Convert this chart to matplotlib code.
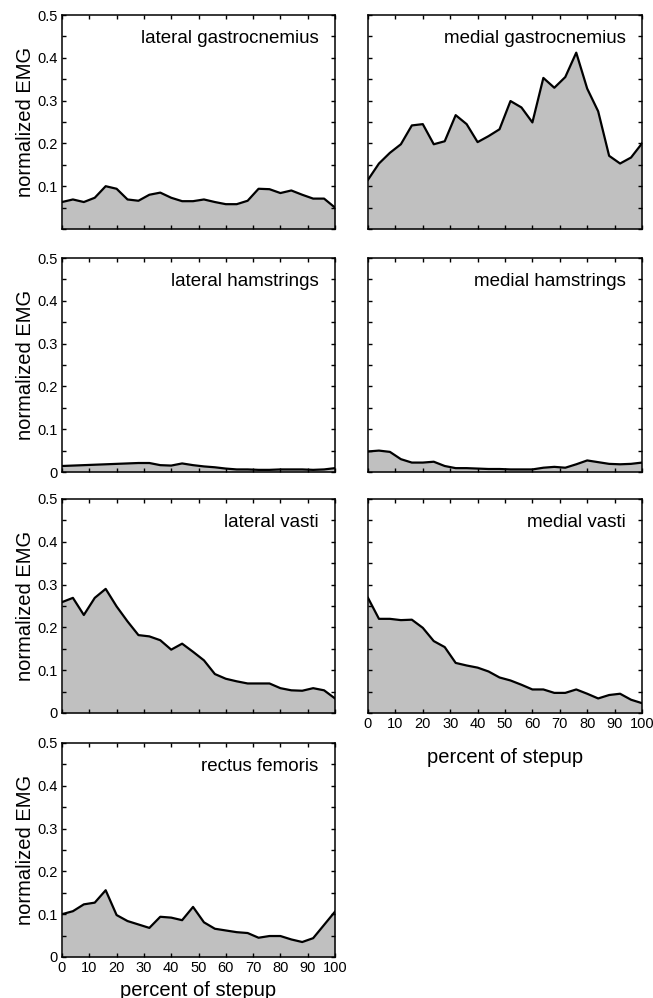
import numpy as np
import matplotlib
matplotlib.use('Agg')
import matplotlib.pyplot as plt

plt.rcParams['font.family'] = ['Liberation Sans', 'DejaVu Sans']

# percent of stepup, sampled every 4 %
pct = np.arange(0, 101, 4)

lat_gastroc = [0.063, 0.069, 0.063, 0.073, 0.100, 0.094, 0.069, 0.066, 0.080, 0.085,
               0.073, 0.065, 0.065, 0.069, 0.063, 0.058, 0.058, 0.066, 0.094, 0.093,
               0.084, 0.090, 0.080, 0.071, 0.071, 0.050]
med_gastroc = [0.115, 0.153, 0.178, 0.198, 0.242, 0.245, 0.198, 0.205, 0.266, 0.245,
               0.203, 0.217, 0.233, 0.299, 0.284, 0.249, 0.353, 0.330, 0.355, 0.412,
               0.328, 0.275, 0.171, 0.153, 0.167, 0.200]
lat_hams = [0.014, 0.015, 0.016, 0.017, 0.018, 0.019, 0.020, 0.021, 0.021, 0.016,
            0.015, 0.020, 0.016, 0.013, 0.011, 0.008, 0.006, 0.006, 0.005, 0.005,
            0.006, 0.006, 0.006, 0.005, 0.006, 0.009]
med_hams = [0.048, 0.050, 0.047, 0.030, 0.022, 0.022, 0.024, 0.014, 0.009, 0.009,
            0.008, 0.007, 0.007, 0.006, 0.006, 0.006, 0.010, 0.012, 0.010, 0.018,
            0.027, 0.023, 0.019, 0.018, 0.019, 0.022]
lat_vasti = [0.259, 0.269, 0.229, 0.269, 0.290, 0.249, 0.214, 0.182, 0.179, 0.170,
             0.148, 0.162, 0.143, 0.123, 0.091, 0.080, 0.074, 0.069, 0.069, 0.069,
             0.058, 0.053, 0.052, 0.058, 0.053, 0.034]
med_vasti = [0.269, 0.220, 0.220, 0.217, 0.218, 0.199, 0.168, 0.154, 0.117, 0.111,
             0.106, 0.097, 0.083, 0.076, 0.066, 0.055, 0.055, 0.047, 0.047, 0.055,
             0.045, 0.034, 0.042, 0.045, 0.031, 0.023]
rect_fem = [0.100, 0.107, 0.123, 0.127, 0.156, 0.098, 0.084, 0.076, 0.068, 0.094,
            0.092, 0.086, 0.117, 0.081, 0.066, 0.062, 0.058, 0.056, 0.045, 0.049,
            0.049, 0.041, 0.035, 0.044, 0.075, 0.106]

muscles = ['lateral gastrocnemius', 'medial gastrocnemius',
           'lateral hamstrings', 'medial hamstrings',
           'lateral vasti', 'medial vasti',
           'rectus femoris']
series = [lat_gastroc, med_gastroc, lat_hams, med_hams, lat_vasti, med_vasti, rect_fem]

W, H = 653, 998
fig = plt.figure(figsize=(W / 100, H / 100), dpi=100)

col_left = [62, 368]
col_w = [273, 274]
row_top = [15, 258, 499, 743]
row_h = 214

yt = np.round(np.arange(0, 0.501, 0.05), 2)
for i, (name, vals) in enumerate(zip(muscles, series)):
    r, c = divmod(i, 2)
    ax = fig.add_axes([col_left[c] / W, 1 - (row_top[r] + row_h) / H,
                       col_w[c] / W, row_h / H])
    ax.fill_between(pct, vals, 0, color='#c0c0c0', lw=0)
    ax.plot(pct, vals, color='black', lw=1.6)
    ax.set_xlim(0, 100)
    ax.set_ylim(0, 0.5)
    ax.set_xticks(np.arange(0, 101, 10))
    ax.set_yticks(yt)
    ax.tick_params(direction='in', length=3, width=1, top=True, right=True,
                   labelsize=10.5, pad=3)
    for sp in ax.spines.values():
        sp.set_linewidth(1.1)
    ax.text(0.94, 0.89, name, transform=ax.transAxes, ha='right', va='center',
            fontsize=13.5)
    if c == 0:
        labels = ['%g' % v if round(v * 100) % 10 == 0 else '' for v in yt]
        if r == 0:
            labels[0] = ''
        ax.set_yticklabels(labels)
        ax.set_ylabel('normalized EMG', fontsize=14.5, labelpad=2)
    else:
        ax.set_yticklabels([])
    if i == 5:
        ax.set_xlabel('percent of stepup', fontsize=14.5, labelpad=12)
    elif i == 6:
        ax.set_xlabel('percent of stepup', fontsize=14.5, labelpad=4)
    else:
        ax.set_xticklabels([])

fig.savefig('out.png', dpi=100)
